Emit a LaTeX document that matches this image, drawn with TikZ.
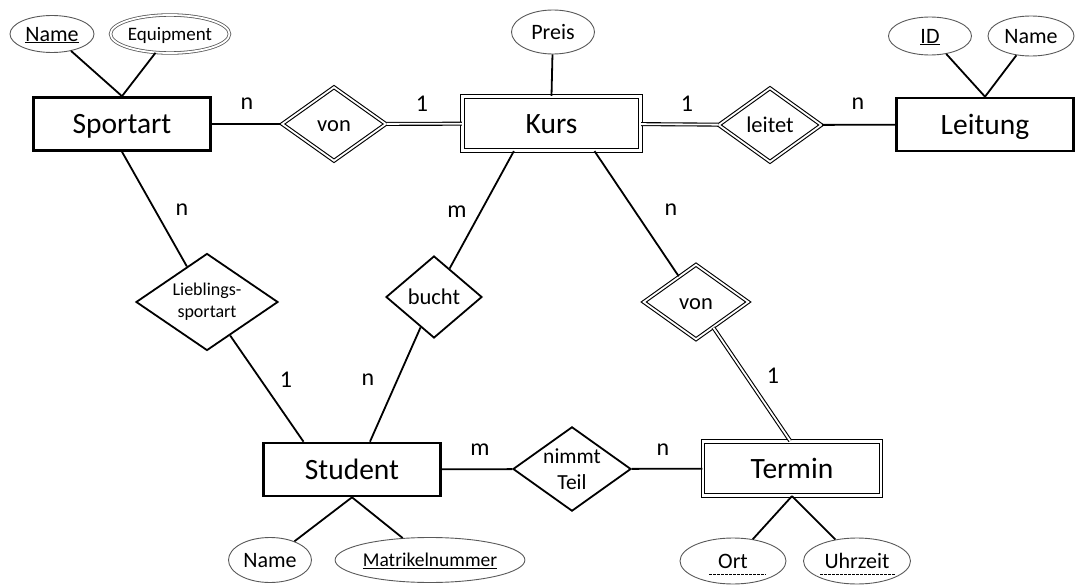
\documentclass[tikz,border=0pt]{standalone}
\usepackage{fontspec}
\setmainfont{Carlito}
\usetikzlibrary{shapes.geometric,calc}
\begin{document}
\begin{tikzpicture}[x=1pt,y=-1pt,
  captext/.style={text height=#1,text depth=0pt},
  entity/.style={draw,line width=2.6pt,rectangle,inner sep=0pt,minimum width=177pt,minimum height=53pt,font=\fontsize{29.5}{31}\selectfont,captext=19pt},
  wentity/.style={draw,rectangle,double,line width=1.2pt,double distance=2.2pt,inner sep=0pt,minimum width=178pt,minimum height=54pt,font=\fontsize{29.5}{31}\selectfont,captext=19pt},
  rel/.style={draw,diamond,line width=1.8pt,inner sep=0pt,aspect=1.4,font=\fontsize{22.5}{24}\selectfont},
  wrel/.style={draw,diamond,double,line width=1.1pt,double distance=1.8pt,inner sep=0pt,aspect=1.4,font=\fontsize{22.5}{24}\selectfont,captext=14.5pt},
  attr/.style={draw=black!65,ellipse,line width=0.9pt,inner sep=0pt,font=\fontsize{22}{24}\selectfont,captext=14.2pt},
  mattr/.style={draw=black!65,ellipse,double,line width=0.8pt,double distance=1.8pt,inner sep=0pt,font=\fontsize{19}{21}\selectfont,captext=12.3pt},
  conn/.style={line width=1.8pt},
  dconn/.style={double,line width=1.1pt,double distance=1.8pt},
  card/.style={inner sep=0pt,font=\fontsize{24}{26}\selectfont},
  weak/.style={dashed,line width=0.7pt,dash pattern=on 2.5pt off 1.5pt}]
\useasboundingbox (0,0) rectangle (1080,586);
% entities
\node[entity] (sp) at (122,124) {Sportart};
\node[wentity] (kurs) at (551.5,123.5) {Kurs};
\node[entity] (leit) at (985,124.5) {Leitung};
\node[entity] (st) at (352,469.5) {Student};
\node[wentity] (term) at (792,468.5) {Termin};
% relationships
\node[wrel,minimum width=104pt,minimum height=74pt] (von1) at (334,124) {von};
\node[wrel,minimum width=103pt,minimum height=74pt] (leitet) at (770,125) {leitet};
\node[rel,minimum width=142pt,minimum height=97pt,align=center,font=\fontsize{18}{22}\selectfont] (lieb) at (207,302) {\raisebox{-5pt}{\parbox{80pt}{\centering Lieblings-\\sportart}}};
\node[rel,minimum width=96pt,minimum height=82pt,captext=14.5pt] (bucht) at (434,297) {bucht};
\node[wrel,minimum width=105pt,minimum height=75pt] (von2) at (696,302) {von};
\node[rel,minimum width=117pt,minimum height=84pt,align=center,font=\fontsize{21.5}{26.5}\selectfont] (nimmt) at (572,469) {\raisebox{-2pt}{\parbox{60pt}{\centering nimmt\\Teil}}};
% attributes
\node[attr,minimum width=84pt,minimum height=37pt] (n1) at (52,34) {\underline{Name}};
\node[mattr,minimum width=117pt,minimum height=38pt] (eq) at (170,34) {Equipment};
\node[attr,minimum width=83pt,minimum height=44pt] (preis) at (553,32) {Preis};
\node[attr,minimum width=83pt,minimum height=38pt] (id) at (930,36) {\underline{ID}};
\node[attr,minimum width=86pt,minimum height=40pt] (n2) at (1031,36) {Name};
\node[attr,minimum width=83pt,minimum height=45pt] (n3) at (270,560) {Name};
\node[attr,minimum width=160pt,minimum height=45pt,font=\fontsize{19.5}{21}\selectfont,captext=12.6pt] (mat) at (430,560) {\underline{Matrikelnummer}};
\node[attr,minimum width=106pt,minimum height=46pt] (ort) at (733,561) {Ort};
\node[attr,minimum width=107pt,minimum height=46pt] (uhr) at (857,561) {Uhrzeit};
\draw[weak] ($(ort.center)+(-24,13)$) -- ($(ort.center)+(33,13)$);
\draw[weak] ($(uhr.center)+(-37,13)$) -- ($(uhr.center)+(38,13)$);
% attribute links
\draw[conn] (n1) -- (sp.north);
\draw[conn] (eq) -- (sp.north);
\draw[conn] (preis) -- (kurs.north);
\draw[conn] (id) -- (leit.north);
\draw[conn] (n2) -- (leit.north);
\draw[conn] (n3) -- (st.south);
\draw[conn] (mat) -- (st.south);
\draw[conn] (ort) -- (term.south);
\draw[conn] (uhr) -- (term.south);
% attach points
\coordinate (kA) at ($(kurs.south west)!0.29!(kurs.south east)$);
\coordinate (kB) at ($(kurs.south west)!0.74!(kurs.south east)$);
\coordinate (stA) at ($(st.north west)!0.23!(st.north east)$);
\coordinate (stB) at ($(st.north west)!0.60!(st.north east)$);
\coordinate (tA) at ($(term.north west)!0.49!(term.north east)$);
% relationship links
\draw[conn] (sp) -- (von1);
\draw[dconn] (von1) -- (kurs);
\draw[dconn] (kurs) -- (leitet);
\draw[conn] (leitet) -- (leit);
\draw[conn] (sp.south) -- (lieb);
\draw[conn] (lieb) -- (stA);
\draw[conn] (kA) -- (bucht);
\draw[conn] (bucht) -- (stB);
\draw[conn] (kB) -- (von2);
\draw[dconn] (von2) -- (tA);
\draw[conn] (st) -- (nimmt);
\draw[conn] (nimmt) -- (term);
% cardinalities
\node[card] (c1) at (247,104) {n};
\node[card] (c2) at (422,104) {1};
\node[card] (c3) at (687,104) {1};
\node[card] (c4) at (858,104) {n};
\node[card] (c5) at (182,210) {n};
\node[card] (c6) at (457,212) {m};
\node[card] (c7) at (671,210) {n};
\node[card] (c8) at (286,380) {1};
\node[card] (c9) at (368,380) {n};
\node[card] (c10) at (773,376) {1};
\node[card] (c11) at (480,450) {m};
\node[card] (c12) at (663,450) {n};
\end{tikzpicture}
\end{document}
